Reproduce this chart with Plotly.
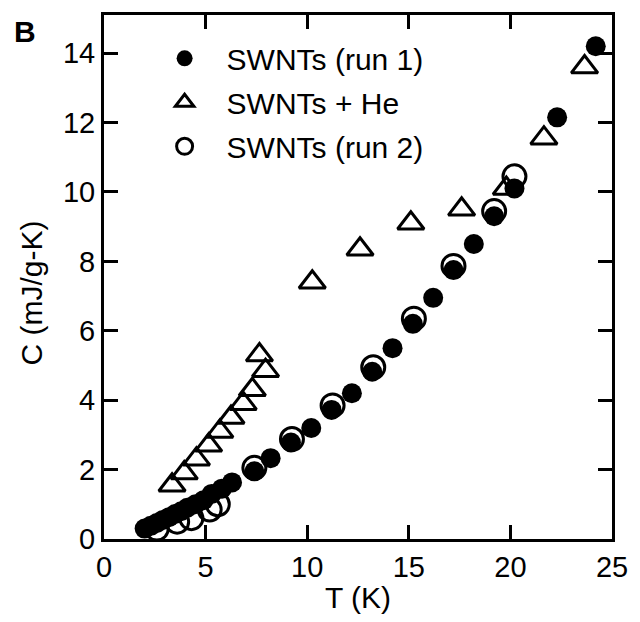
import plotly.graph_objects as go

# Specific heat of single-walled carbon nanotubes
run1_T = [2.0, 2.3, 2.6, 2.9, 3.2, 3.5, 3.8, 4.1, 4.5, 4.9, 5.3, 5.8, 6.3,
          7.4, 8.2, 9.2, 10.2, 11.2, 12.2, 13.2, 14.2, 15.2, 16.2, 17.2,
          18.2, 19.2, 20.2, 22.3, 24.2]
run1_C = [0.3, 0.38, 0.46, 0.55, 0.63, 0.72, 0.8, 0.9, 1.0, 1.12, 1.3, 1.45, 1.63,
          1.95, 2.33, 2.78, 3.2, 3.72, 4.2, 4.82, 5.5, 6.2, 6.95, 7.75,
          8.5, 9.3, 10.1, 12.15, 14.2]

he_T = [3.35, 3.95, 4.55, 5.15, 5.7, 6.25, 6.85, 7.3, 7.65, 7.95,
        10.25, 12.6, 15.1, 17.6, 19.8, 21.65, 23.65]
he_C = [1.55, 1.9, 2.3, 2.7, 3.1, 3.5, 3.9, 4.3, 5.3, 4.85,
        7.4, 8.35, 9.1, 9.5, 10.1, 11.55, 13.6]

run2_T = [2.6, 3.6, 4.3, 5.2, 5.6, 7.4, 9.25, 11.25, 13.25, 15.25, 17.2, 19.2, 20.2]
run2_C = [0.3, 0.5, 0.6, 0.85, 1.0, 2.05, 2.88, 3.85, 4.95, 6.35, 7.87, 9.45, 10.45]

x_ticks = [0, 5, 10, 15, 20, 25]
y_ticks = [0, 2, 4, 6, 8, 10, 12, 14]

FONT = "Liberation Sans, Arial, Helvetica, sans-serif"

fig = go.Figure()

fig.add_trace(go.Scatter(
    x=he_T, y=he_C, mode="markers", name="SWNTs + He", legendrank=2,
    legendgroup="he",
    marker=dict(symbol="triangle-up-open", size=23, color="black",
                line=dict(width=3, color="black")),
    cliponaxis=False,
))
fig.add_trace(go.Scatter(
    x=run2_T, y=run2_C, mode="markers", name="SWNTs (run 2)", legendrank=3,
    legendgroup="run2",
    marker=dict(symbol="circle-open", size=23, color="black",
                line=dict(width=3, color="black")),
    cliponaxis=False,
))
fig.add_trace(go.Scatter(
    x=run1_T, y=run1_C, mode="markers", name="SWNTs (run 1)", legendrank=1,
    legendgroup="run1",
    marker=dict(symbol="circle", size=20, color="black",
                line=dict(width=0)),
    cliponaxis=False,
))

axis_common = dict(
    showline=True, linecolor="black", linewidth=3, mirror="allticks",
    ticks="inside", ticklen=14, tickwidth=2.5, tickcolor="black",
    showgrid=False, zeroline=False,
    tickfont=dict(family=FONT, size=29, color="black"),
)

fig.update_xaxes(
    range=[0, 25], tickvals=x_ticks, ticktext=[str(v) for v in x_ticks],
    title=dict(text="T (K)", font=dict(family=FONT, size=30, color="black"), standoff=6),
    **axis_common,
)
fig.update_yaxes(
    range=[0, 15.1], tickvals=y_ticks, ticktext=[str(v) for v in y_ticks],
    **axis_common,
)

# y-axis title, placed a little below the axis midpoint
fig.add_annotation(
    text="C (mJ/g-K)", xref="paper", yref="paper", x=-0.142, y=0.47,
    xanchor="center", yanchor="middle", textangle=-90, showarrow=False,
    font=dict(family=FONT, size=30, color="black"),
)

# panel letter
fig.add_annotation(
    text="<b>B</b>", xref="paper", yref="paper", x=-0.155, y=0.968,
    xanchor="center", yanchor="middle", showarrow=False,
    font=dict(family=FONT, size=30, color="black"),
)

fig.update_layout(
    width=640, height=622,
    margin=dict(l=104, r=21, t=12, b=82),
    paper_bgcolor="white", plot_bgcolor="white",
    showlegend=True,
    legend=dict(
        x=0.076, y=0.967, xanchor="left", yanchor="top",
        bgcolor="rgba(0,0,0,0)", borderwidth=0,
        font=dict(family=FONT, size=30, color="black"),
        itemwidth=74, tracegroupgap=2,
    ),
)

fig.write_html("out.html")
